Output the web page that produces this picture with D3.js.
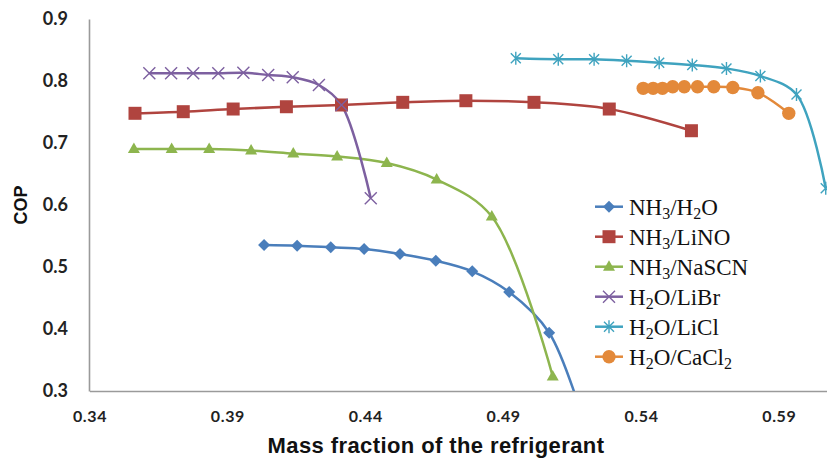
<!DOCTYPE html>
<html>
<head>
<meta charset="utf-8">
<script src="https://cdn.jsdelivr.net/npm/d3@7"></script>
<style>
  body { margin: 0; background: #fff; }
  svg { display: block; }
</style>
</head>
<body>
<script>
// series values: [mass fraction, COP]
const nh3H2o = [[0.4033, 0.5355], [0.4153, 0.5344], [0.4275, 0.5318], [0.4396, 0.529], [0.4526, 0.521],
  [0.4656, 0.5102], [0.4788, 0.4931], [0.4922, 0.4597], [0.5067, 0.394], [0.52, 0.24]];
const nh3Lino = [[0.3565, 0.7479], [0.374, 0.7505], [0.3921, 0.7548], [0.4114, 0.7585], [0.4314, 0.7613],
  [0.4536, 0.7656], [0.4765, 0.7682], [0.5012, 0.7656], [0.5285, 0.7548], [0.5583, 0.7198]];
const nh3Nascn = [[0.3561, 0.6903], [0.3698, 0.6903], [0.3834, 0.6903], [0.3986, 0.6879], [0.4139, 0.6831],
  [0.4298, 0.6782], [0.4478, 0.6677], [0.4659, 0.6411], [0.4859, 0.5815], [0.508, 0.3235]];
const h2oLibr = [[0.3617, 0.8124], [0.3696, 0.8124], [0.3776, 0.8124], [0.3867, 0.8124], [0.3958, 0.8134],
  [0.4048, 0.8097], [0.4137, 0.806], [0.4232, 0.7935], [0.4314, 0.7613], [0.442, 0.6108]];
const h2oLicl = [[0.4946, 0.8366], [0.51, 0.835], [0.523, 0.835], [0.5348, 0.8327], [0.5466, 0.8295],
  [0.5586, 0.8258], [0.571, 0.8202], [0.5833, 0.8081], [0.5964, 0.7782], [0.607, 0.6269]];
const h2oCacl2 = [[0.5408, 0.7882], [0.5444, 0.7882], [0.5478, 0.7882], [0.5515, 0.7908], [0.5557, 0.7908],
  [0.5605, 0.7908], [0.5664, 0.7908], [0.5733, 0.7895], [0.5824, 0.7811], [0.5936, 0.7479]];

// legend labels: [main, subscript, main, subscript, main]
const seriesNames = [
  ['NH', '3', '/H', '2', 'O'],
  ['NH', '3', '/LiNO', '', ''],
  ['NH', '3', '/NaSCN', '', ''],
  ['H', '2', 'O/LiBr', '', ''],
  ['H', '2', 'O/LiCl', '', ''],
  ['H', '2', 'O/CaCl', '2', '']
];
const xTicks = [0.34, 0.39, 0.44, 0.49, 0.54, 0.59];
const yTicks = [0.3, 0.4, 0.5, 0.6, 0.7, 0.8, 0.9];

const width = 827, height = 460;
const plot = { left: 89.5, right: 834, top: 19, bottom: 391 };

const series = [
  { data: nh3H2o, color: '#4A7EBB', marker: 'diamond' },
  { data: nh3Lino, color: '#B0443F', marker: 'square' },
  { data: nh3Nascn, color: '#8DB54E', marker: 'triangle' },
  { data: h2oLibr, color: '#7D60A0', marker: 'x' },
  { data: h2oLicl, color: '#3FA3BF', marker: 'star' },
  { data: h2oCacl2, color: '#E3893A', marker: 'circle' }
];

const x = d3.scaleLinear().domain([0.34, 0.61]).range([plot.left, plot.right]);
const y = d3.scaleLinear().domain([0.3, 0.9]).range([plot.bottom, plot.top]);

const svg = d3.select('body').append('svg')
  .attr('width', width)
  .attr('height', height);

svg.append('defs').append('clipPath').attr('id', 'plotclip')
  .append('rect')
  .attr('x', plot.left).attr('y', plot.top)
  .attr('width', plot.right - plot.left).attr('height', plot.bottom - plot.top);

// marker path for each type, centred on 0,0
function markerPath(type) {
  switch (type) {
    case 'diamond': return 'M0,-6L6,0L0,6L-6,0Z';
    case 'square': return 'M-6.5,-6.5H6.5V6.5H-6.5Z';
    case 'triangle': return 'M0,-6.5L6,4L-6,4Z';
    case 'x': return 'M-6,-6L6,6M-6,6L6,-6';
    case 'star': return 'M-5,-5L5,5M-5,5L5,-5M0,-6.5V6.5';
    case 'circle': return d3.symbol(d3.symbolCircle, 140)();
  }
}

function drawMarker(g, type, color) {
  const open = type === 'x' || type === 'star';
  g.append('path')
    .attr('d', markerPath(type))
    .attr('fill', open ? 'none' : color)
    .attr('stroke', color)
    .attr('stroke-width', open ? 1.4 : 0);
}

const line = d3.line()
  .x(d => x(d[0]))
  .y(d => y(d[1]))
  .curve(d3.curveCatmullRom.alpha(0.5));

// axes
const xAxis = svg.append('g')
  .attr('transform', `translate(0,${plot.bottom})`)
  .call(d3.axisBottom(x).tickValues(xTicks).tickFormat(d3.format('.2f'))
    .tickSizeInner(0).tickSizeOuter(0).tickPadding(20));
xAxis.selectAll('text')
  .attr('font-family', 'Lato, sans-serif')
  .attr('font-weight', 'bold')
  .attr('font-size', 16)
  .attr('letter-spacing', 0.6)
  .attr('fill', '#222');

const yAxis = svg.append('g')
  .attr('transform', `translate(${plot.left - 0.5},0)`)
  .call(d3.axisLeft(y).tickValues(yTicks).tickFormat(d3.format('.1f'))
    .tickSizeInner(0).tickSizeOuter(0).tickPadding(21));
yAxis.selectAll('text')
  .attr('font-family', 'Lato, sans-serif')
  .attr('font-weight', 'bold')
  .attr('font-size', 18)
  .attr('fill', '#222');

svg.selectAll('.domain').attr('stroke', '#9a9a9a').attr('stroke-width', 1.6);

// lines
const lines = svg.append('g').attr('clip-path', 'url(#plotclip)');
series.forEach(s => {
  lines.append('path')
    .attr('d', line(s.data))
    .attr('fill', 'none')
    .attr('stroke', s.color)
    .attr('stroke-width', 2.5);
});

// markers
series.forEach(s => {
  svg.append('g').selectAll('g')
    .data(s.data.filter(d => d[1] >= 0.3))
    .enter()
    .append('g')
    .attr('transform', d => `translate(${x(d[0])},${y(d[1])})`)
    .each(function () { drawMarker(d3.select(this), s.marker, s.color); });
});

// axis titles
svg.append('text')
  .attr('x', 436).attr('y', 453)
  .attr('text-anchor', 'middle')
  .attr('font-family', 'Liberation Sans, Arial, sans-serif')
  .attr('font-weight', 'bold')
  .attr('font-size', 22)
  .attr('letter-spacing', 0.4)
  .attr('fill', '#111')
  .text('Mass fraction of the refrigerant');

svg.append('text')
  .attr('transform', 'translate(27,205) rotate(-90)')
  .attr('text-anchor', 'middle')
  .attr('font-family', 'Liberation Sans, Arial, sans-serif')
  .attr('font-weight', 'bold')
  .attr('font-size', 18)
  .attr('fill', '#111')
  .text('COP');

// legend
const legend = svg.append('g');
series.forEach((s, i) => {
  const ry = 206.7 + i * 30;
  const row = legend.append('g').attr('transform', `translate(0,${ry})`);
  row.append('line')
    .attr('x1', 595).attr('x2', 623)
    .attr('stroke', s.color).attr('stroke-width', 2.5);
  const m = row.append('g').attr('transform', 'translate(609,0)');
  drawMarker(m, s.marker, s.color);

  const t = row.append('text')
    .attr('x', 629).attr('y', 8)
    .attr('font-family', 'Liberation Serif, Times New Roman, serif')
    .attr('font-size', 23)
    .attr('fill', '#111');
  const parts = seriesNames[i];
  parts.forEach((p, k) => {
    if (!p) return;
    const sub = k % 2 === 1;
    t.append('tspan')
      .attr('font-size', sub ? 16 : 23)
      .attr('y', sub ? 12 : 8)
      .text(p);
  });
});
</script>
</body>
</html>
